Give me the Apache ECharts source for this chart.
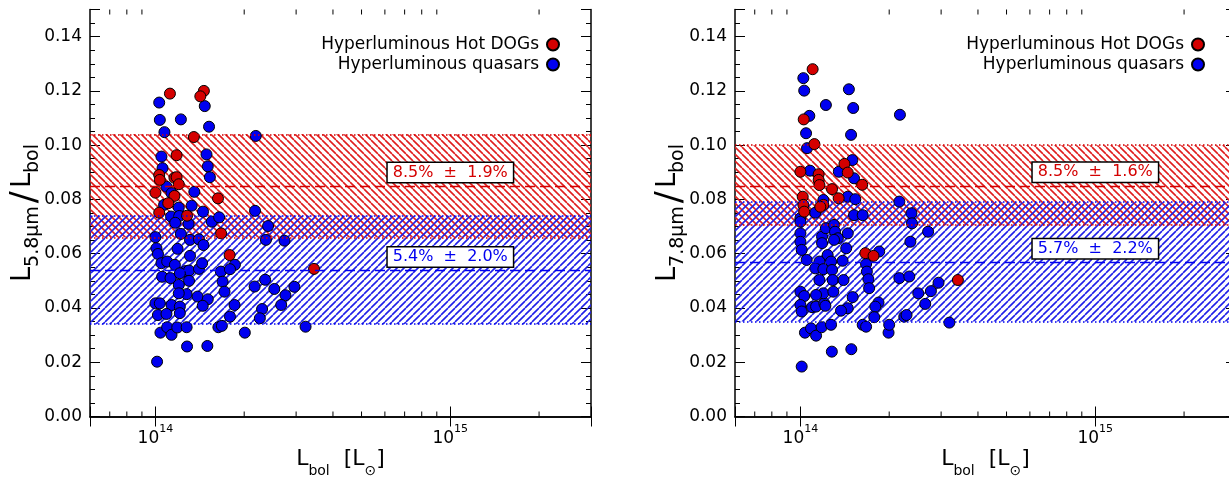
<!DOCTYPE html>
<html>
<head>
<meta charset="utf-8">
<script src="https://cdn.jsdelivr.net/npm/echarts@6/dist/echarts.min.js"></script>
<style>
  html, body { margin: 0; padding: 0; overflow: hidden; background: #fff; }
  #chart { width: 1240px; height: 477px; }
</style>
</head>
<body>
<div id="chart"></div>
<script>
// Bolometric luminosity in units of 1e14 Lsun, paired with L_mid-IR / L_bol.
const dogs58 = [
  [1.12,0.119],[1.46,0.120],[1.42,0.118],[1.35,0.103],[1.18,0.0963],[1.03,0.089],[1.035,0.0872],
  [1.16,0.088],[1.18,0.0882],[1.20,0.0856],[1.00,0.0825],[1.16,0.0813],[1.105,0.0786],[1.63,0.0804],
  [1.03,0.0751],[1.28,0.074],[1.67,0.0675],[1.785,0.0595],[3.45,0.0544]
];
const qso58 = [
  [1.03,0.1157],[1.47,0.1144],[1.035,0.1093],[1.22,0.1095],[1.52,0.1068],[1.073,0.1048],[2.19,0.1034],
  [1.048,0.0958],[1.49,0.0966],[1.505,0.0922],[1.057,0.0915],[1.53,0.0882],[1.09,0.0847],[1.355,0.0828],
  [1.134,0.0823],[1.327,0.0777],[1.20,0.0770],[1.45,0.0755],[1.13,0.0737],[1.205,0.0739],[1.553,0.0718],
  [1.645,0.0734],[2.177,0.0758],[1.07,0.0780],[1.167,0.0714],[1.296,0.0710],[2.41,0.0702],[2.37,0.0651],
  [2.74,0.0648],[1.00,0.0661],[1.008,0.0620],[1.189,0.0618],[1.22,0.0673],[1.31,0.0651],[1.405,0.0653],
  [1.455,0.0632],[1.31,0.0592],[1.02,0.0599],[1.048,0.0565],[1.096,0.0571],[1.164,0.0559],[1.266,0.0536],
  [1.30,0.0538],[1.405,0.0544],[1.44,0.0565],[1.054,0.0515],[1.125,0.0510],[1.21,0.0528],[1.30,0.0500],
  [1.20,0.0485],[1.667,0.0534],[1.69,0.0497],[1.715,0.0460],[1.86,0.0559],[1.79,0.0543],[2.17,0.0479],
  [2.355,0.0504],[2.53,0.0470],[2.96,0.0478],[2.76,0.0447],[2.67,0.0411],[2.30,0.0396],[2.26,0.0362],
  [1.855,0.0411],[1.79,0.0368],[1.00,0.0417],[1.035,0.0417],[1.134,0.0411],[1.21,0.0405],[1.276,0.0451],
  [1.39,0.0442],[1.505,0.0432],[1.447,0.0408],[1.20,0.0454],[1.02,0.0374],[1.09,0.0378],[1.21,0.0381],
  [1.04,0.0309],[1.096,0.0329],[1.134,0.0301],[1.186,0.0328],[1.276,0.0329],[1.635,0.0329],[1.68,0.0334],
  [2.01,0.0309],[3.23,0.0331],[1.28,0.0258],[1.50,0.0260],[1.013,0.0202]
];
const dogs78 = [
  [1.10,0.128],[1.026,0.1095],[1.115,0.1004],[1.41,0.0931],[1.447,0.0899],[1.00,0.0902],[1.153,0.0893],
  [1.153,0.0872],[1.16,0.0853],[1.28,0.0838],[1.348,0.0804],[1.62,0.0854],[1.018,0.0810],[1.023,0.0780],
  [1.03,0.0755],[1.196,0.0780],[1.168,0.0773],[1.66,0.0602],[1.77,0.0592],[3.42,0.0503]
];
const qso78 = [
  [1.023,0.1247],[1.03,0.1201],[1.46,0.1206],[1.22,0.1148],[1.51,0.1137],[1.072,0.1108],[2.175,0.1112],
  [1.045,0.1044],[1.485,0.1038],[1.053,0.0989],[1.50,0.0945],[1.35,0.0902],[1.52,0.0878],[1.078,0.0906],
  [1.447,0.0810],[1.535,0.0801],[1.196,0.0798],[2.165,0.0792],[2.38,0.0749],[1.123,0.0751],[1.52,0.0742],
  [1.626,0.0742],[1.00,0.0731],[1.00,0.0718],[2.39,0.0712],[2.71,0.0681],[2.36,0.0644],[1.00,0.0675],
  [1.00,0.0644],[1.01,0.0614],[1.05,0.0577],[1.184,0.0663],[1.184,0.0639],[1.22,0.0694],[1.30,0.0706],
  [1.31,0.0681],[1.34,0.0657],[1.30,0.0651],[1.447,0.0675],[1.43,0.0620],[1.237,0.0595],[1.39,0.0574],
  [1.27,0.0571],[1.16,0.0571],[1.123,0.0546],[1.196,0.0543],[1.28,0.0540],[1.16,0.0503],[1.287,0.0503],
  [1.40,0.0503],[1.85,0.0608],[1.67,0.0562],[1.68,0.0534],[1.70,0.0506],[1.71,0.0473],[2.165,0.0510],
  [2.34,0.0516],[2.94,0.0493],[2.77,0.0462],[2.51,0.0454],[2.65,0.0415],[1.504,0.0440],[1.84,0.0420],
  [1.795,0.0405],[1.447,0.0399],[1.373,0.0390],[1.78,0.0366],[2.25,0.0368],[2.29,0.0374],[3.20,0.0346],
  [1.00,0.0460],[1.03,0.0444],[1.00,0.0411],[1.01,0.0387],[1.095,0.0403],[1.13,0.0405],[1.205,0.0417],
  [1.196,0.0454],[1.13,0.0448],[1.293,0.0460],[1.215,0.0408],[1.626,0.0338],[1.67,0.0331],[1.99,0.0309],
  [2.0,0.0338],[1.036,0.0309],[1.086,0.0325],[1.13,0.0298],[1.18,0.0329],[1.27,0.0338],[1.278,0.0239],
  [1.488,0.0248],[1.01,0.0184]
];

// Mean +/- scatter bands: [low, mean, high]
const dogBand58 = [0.066, 0.085, 0.104];
const qsoBand58 = [0.034, 0.054, 0.074];
const dogBand78 = [0.0705, 0.085, 0.100];
const qsoBand78 = [0.035, 0.057, 0.079];
const dogText58 = '8.5%  ±  1.9%';
const qsoText58 = '5.4%  ±  2.0%';
const dogText78 = '8.5%  ±  1.6%';
const qsoText78 = '5.7%  ±  2.2%';

const xRange = [6e13, 3e15];
const yRange = [0, 0.15];
const xMinorTicks = [7e13, 8e13, 9e13, 2e14, 3e14, 4e14, 5e14, 6e14, 7e14, 8e14, 9e14, 2e15];
const seriesNames = ['Hyperluminous Hot DOGs', 'Hyperluminous quasars'];

const FONT = 'DejaVu Sans';
const RED = '#d40000', BLUE = '#0000f0';
const HATCH_RED = '#e01e1e', HATCH_BLUE = '#2020e8';
const W = 1240;

// tiled diagonal hatching; dir > 0 gives '/', otherwise '\'
function hatch(color, dir) {
  const s = 7;
  const c = document.createElement('canvas');
  c.width = s; c.height = s;
  const g = c.getContext('2d');
  g.strokeStyle = color;
  g.lineWidth = 1.6;
  g.beginPath();
  for (let k = -1; k <= 1; k++) {
    if (dir > 0) { g.moveTo(k * s, s); g.lineTo(k * s + s, 0); }
    else { g.moveTo(k * s, 0); g.lineTo(k * s + s, s); }
  }
  g.stroke();
  return { image: c, repeat: 'repeat' };
}
const redFill = hatch(HATCH_RED, -1);
const blueFill = hatch(HATCH_BLUE, 1);

const panels = [
  { left: 90, dogs: dogs58, qso: qso58, dogBand: dogBand58, qsoBand: qsoBand58,
    dogText: dogText58, qsoText: qsoText58, dogLabelY: 0.0899, qsoLabelY: 0.0588, sub: '5.8μm' },
  { left: 735, dogs: dogs78, qso: qso78, dogBand: dogBand78, qsoBand: qsoBand78,
    dogText: dogText78, qsoText: qsoText78, dogLabelY: 0.0900, qsoLabelY: 0.0618, sub: '7.8μm' }
];

const gridW = 501, gridTop = 9.5, gridH = 407;

const grid = [], xAxis = [], yAxis = [], series = [], legend = [];

panels.forEach((p, i) => {
  grid.push({ left: p.left, top: gridTop, width: gridW, height: gridH,
              containLabel: false, outerBoundsMode: 'none' });
  const axisLine = { show: true, lineStyle: { color: '#000', width: 1.5 } };
  // bottom and top log axes
  xAxis.push({
    type: 'log', logBase: 10, gridIndex: i, position: 'bottom', min: xRange[0], max: xRange[1],
    axisLine, splitLine: { show: false },
    axisTick: { inside: true, length: 10, lineStyle: { color: '#000', width: 1 } },
    axisLabel: {
      margin: 7,
      formatter: v => {
        const e = Math.round(Math.log10(v));
        return Math.abs(Math.log10(v) - e) < 1e-6 ? '{b|10}{s|' + e + '}' : '';
      },
      rich: {
        b: { fontFamily: FONT, fontSize: 17, color: '#000', lineHeight: 24, verticalAlign: 'bottom' },
        s: { fontFamily: FONT, fontSize: 11, color: '#000', lineHeight: 14, verticalAlign: 'top' }
      }
    },
    name: '{m|L}{d|bol}{m|  [L}{d|⊙}{m|]}',
    nameLocation: 'middle', nameGap: 32, nameMoveOverlap: false,
    nameTextStyle: {
      rich: {
        m: { fontFamily: FONT, fontSize: 22, color: '#000', lineHeight: 30, verticalAlign: 'top' },
        d: { fontFamily: FONT, fontSize: 14, color: '#000', lineHeight: 20, verticalAlign: 'bottom' }
      }
    }
  });
  xAxis.push({
    type: 'log', logBase: 10, gridIndex: i, position: 'top', min: xRange[0], max: xRange[1],
    axisLine, splitLine: { show: false },
    axisTick: { inside: true, length: 10, lineStyle: { color: '#000', width: 1 } },
    axisLabel: { show: false }
  });
  // left and right value axes: labelled majors plus short minors
  const major = (pos, labels) => ({
    type: 'value', gridIndex: i, position: pos, min: yRange[0], max: yRange[1], interval: 0.02,
    axisLine, splitLine: { show: false },
    axisTick: { inside: true, length: 10, lineStyle: { color: '#000', width: 1 } },
    axisLabel: labels ? {
      margin: 8, fontFamily: FONT, fontSize: 17, color: '#000',
      formatter: v => (v > 0.145 ? '' : v.toFixed(2))
    } : { show: false }
  });
  const minor = pos => ({
    type: 'value', gridIndex: i, position: pos, min: yRange[0], max: yRange[1], interval: 0.005,
    axisLine: { show: false }, splitLine: { show: false },
    axisTick: { inside: true, length: 5, lineStyle: { color: '#000', width: 1 } },
    axisLabel: { show: false }
  });
  const yl = major('left', true);
  yl.name = '{m|L}{d|' + p.sub + '}{sl|/}{m|L}{d|bol}';
  yl.nameLocation = 'middle';
  yl.nameGap = 47;
  yl.nameMoveOverlap = false;
  yl.nameTextStyle = {
    rich: {
      m: { fontFamily: FONT, fontSize: 27, color: '#000', lineHeight: 34, verticalAlign: 'top' },
      d: { fontFamily: FONT, fontSize: 19, color: '#000', lineHeight: 28, verticalAlign: 'bottom' },
      sl: { fontFamily: FONT, fontSize: 36, color: '#000', lineHeight: 34, padding: [0, 3, 0, 3] }
    }
  };
  yAxis.push(yl, minor('left'), major('right', false), minor('right'));

  const xi = 2 * i, yi = 4 * i;
  const band = (b, fill, color, name) => ({
    type: 'custom', name, xAxisIndex: xi, yAxisIndex: yi, silent: true, z: 1,
    data: [[xRange[0], xRange[1], b[0], b[2]]],
    encode: { x: [0, 1], y: [2, 3] },
    renderItem: (params, api) => {
      const a = api.coord([api.value(0), api.value(3)]);
      const c = api.coord([api.value(1), api.value(2)]);
      return { type: 'rect', shape: { x: a[0], y: a[1], width: c[0] - a[0], height: c[1] - a[1] },
               style: { fill } };
    },
    markLine: {
      silent: true, symbol: 'none', label: { show: false }, precision: 6,
      data: [
        { yAxis: b[0], lineStyle: { color, width: 1.5, type: [1.5, 2.5] } },
        { yAxis: b[2], lineStyle: { color, width: 1.5, type: [1.5, 2.5] } },
        { yAxis: b[1], lineStyle: { color, width: 1.3, type: [10, 5] } }
      ]
    }
  });
  series.push(band(p.dogBand, redFill, RED, 'band-dog-' + i));
  series.push(band(p.qsoBand, blueFill, BLUE, 'band-qso-' + i));

  // minor ticks of the log axes, bottom and top edges
  series.push({
    type: 'custom', xAxisIndex: xi, yAxisIndex: yi, silent: true, z: 5,
    data: xMinorTicks.map(v => [v, yRange[0]]),
    encode: { x: 0, y: 1 },
    renderItem: (params, api) => {
      const b = api.coord([api.value(0), yRange[0]]);
      const t = api.coord([api.value(0), yRange[1]]);
      return { type: 'group', children: [
        { type: 'line', shape: { x1: b[0], y1: b[1], x2: b[0], y2: b[1] - 5 }, style: { stroke: '#000', lineWidth: 1 } },
        { type: 'line', shape: { x1: t[0], y1: t[1], x2: t[0], y2: t[1] + 5 }, style: { stroke: '#000', lineWidth: 1 } }
      ] };
    }
  });

  const scatter = (name, data, color) => ({
    type: 'scatter', name, xAxisIndex: xi, yAxisIndex: yi, z: 3,
    symbol: 'circle', symbolSize: 11,
    itemStyle: { color, borderColor: '#000', borderWidth: 1, opacity: 1 },
    emphasis: { disabled: true },
    data: data.map(d => [d[0] * 1e14, d[1]])
  });
  series.push(scatter(seriesNames[1], p.qso, BLUE));
  series.push(scatter(seriesNames[0], p.dogs, RED));

  // boxed mean +/- scatter labels, centred at 1e15
  series.push({
    type: 'custom', xAxisIndex: xi, yAxisIndex: yi, silent: true, z: 10,
    data: [[1e15, p.dogLabelY, 0], [1e15, p.qsoLabelY, 1]],
    encode: { x: 0, y: 1 },
    renderItem: (params, api) => {
      const pt = api.coord([api.value(0), api.value(1)]);
      const k = api.value(2);
      return {
        type: 'text', x: pt[0], y: pt[1],
        style: {
          text: k === 0 ? p.dogText : p.qsoText,
          fill: k === 0 ? RED : BLUE,
          font: '16px "' + FONT + '"',
          align: 'center', verticalAlign: 'middle',
          backgroundColor: '#fff', borderColor: '#000', borderWidth: 1.5,
          padding: [2, 5, 1, 5]
        }
      };
    }
  });

  // legend, symbols on the right of the text
  const rightEdge = p.left + 470;
  seriesNames.forEach((nm, k) => {
    legend.push({
      data: [nm], right: W - rightEdge, top: 36 + 20 * k, padding: 0,
      orient: 'vertical', align: 'right', icon: 'circle',
      itemWidth: 12, itemHeight: 12, selectedMode: false,
      textStyle: { fontFamily: FONT, fontSize: 17, color: '#000', padding: [0, 3, 0, 0] }
    });
  });
});

const chart = echarts.init(document.getElementById('chart'), null, { renderer: 'canvas' });
chart.setOption({
  animation: false,
  backgroundColor: '#fff',
  grid, xAxis, yAxis, legend, series
});
</script>
</body>
</html>
